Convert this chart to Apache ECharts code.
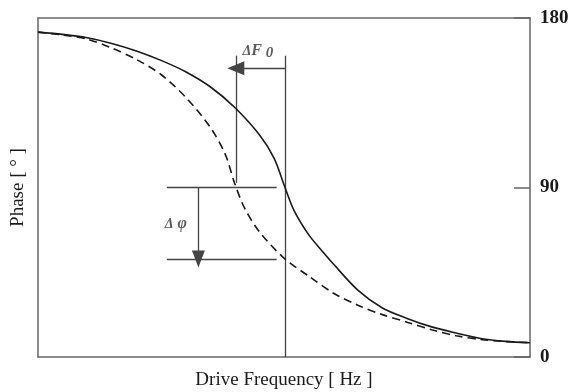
<!DOCTYPE html>
<html lang="en">
<head>
    <meta charset="UTF-8">
    <title>Phase vs Drive Frequency</title>
    <script src="https://cdn.jsdelivr.net/npm/echarts@6/dist/echarts.min.js"></script>
    <style>
        html, body { margin: 0; padding: 0; background: #fff; }
        #main { width: 575px; height: 392px; }
    </style>
</head>
<body>
<div id="main"></div>
<script>
    // phase curves, x in % of the frequency span, y in degrees
    const solidCurve = [
        [0, 172.5], [5, 171.3], [10, 169.5], [15, 166.5], [20, 162.5], [25, 157.5],
        [30, 151.5], [35, 143.5], [40, 132.5], [45, 118], [48, 105.5], [50, 91.5],
        [52, 78], [55, 65], [58, 55.5], [60, 49.5], [65, 35.5], [70, 26], [75, 20.5],
        [80, 16], [85, 12.7], [90, 9.8], [95, 8.3], [100, 7.6]
    ];
    const dashedCurve = [
        [0, 172.5], [5, 171], [10, 168.8], [15, 164], [20, 158], [25, 150], [30, 138],
        [35, 122], [38, 108], [40, 92], [42, 79], [45, 66.5], [50, 52.5], [55, 43],
        [60, 34], [65, 27.5], [70, 22.5], [75, 18.5], [80, 14.5], [85, 11.3], [90, 9.3],
        [95, 8.2], [100, 7.6]
    ];
    const phaseTicks = [0, 90, 180];

    // annotation positions (data units)
    const f0 = 50.2;          // resonance
    const f0Shift = 40.2;     // shifted resonance
    const lineTop = 160;
    const dfArrowY = 153.3;
    const dfLineBottom = 92.5;
    const phaseHi = 90;
    const phaseLo = 52;
    const hLineFrom = 26.2;
    const hLineTo = 48.5;
    const dphiX = 32.6;

    const serif = '"Liberation Serif", "DejaVu Serif", serif';
    const ink = '#1a1a1a';
    const frame = '#666';

    const chart = echarts.init(document.getElementById('main'));

    const frameLine = { show: true, onZero: false, lineStyle: { color: frame, width: 1.5 } };

    chart.setOption({
        animation: false,
        backgroundColor: '#fff',
        grid: { left: 38, right: 45, top: 18, bottom: 35, containLabel: false, outerBoundsMode: 'none' },
        xAxis: [{
            type: 'value', min: 0, max: 100,
            name: 'Drive Frequency [ Hz ]', nameLocation: 'middle', nameGap: 14,
            nameTextStyle: { fontFamily: serif, fontSize: 19, color: ink },
            axisLine: frameLine,
            axisTick: { show: false }, axisLabel: { show: false }, splitLine: { show: false }
        }, {
            type: 'value', min: 0, max: 100, position: 'top',
            axisLine: frameLine,
            axisTick: { show: false }, axisLabel: { show: false }, splitLine: { show: false }
        }],
        yAxis: [{
            type: 'value', min: 0, max: 180,
            name: 'Phase [ ° ]', nameLocation: 'middle', nameGap: 10,
            nameTextStyle: { fontFamily: serif, fontSize: 19, color: ink },
            axisLine: frameLine,
            axisTick: { show: false }, axisLabel: { show: false }, splitLine: { show: false }
        }, {
            type: 'value', min: 0, max: 180, interval: 90, position: 'right',
            axisLine: frameLine,
            axisTick: { show: true, inside: true, length: 16, lineStyle: { color: frame, width: 1.5 } },
            axisLabel: {
                margin: 10, fontFamily: serif, fontSize: 19, fontWeight: 'bold', color: ink,
                formatter: v => phaseTicks.includes(v) ? String(v) : ''
            },
            splitLine: { show: false }
        }],
        series: [
            {
                type: 'line', data: solidCurve, smooth: 0.3, symbol: 'none',
                lineStyle: { color: ink, width: 1.6 }, z: 5
            },
            {
                type: 'line', data: dashedCurve, smooth: 0.3, symbol: 'none',
                lineStyle: { color: ink, width: 1.6, type: [8, 5] }, z: 5
            },
            {
                // guide lines and arrows
                type: 'line', data: [], symbol: 'none',
                markLine: {
                    silent: true, symbol: 'none', label: { show: false },
                    lineStyle: { color: '#444', width: 1.3, type: 'solid' },
                    data: [
                        [{ coord: [f0, 0] }, { coord: [f0, lineTop] }],
                        [{ coord: [f0Shift, dfLineBottom] }, { coord: [f0Shift, lineTop] }],
                        [{ coord: [hLineFrom, phaseHi] }, { coord: [hLineTo, phaseHi] }],
                        [{ coord: [hLineFrom, phaseLo] }, { coord: [hLineTo, phaseLo] }],
                        [{ coord: [f0, dfArrowY] }, { coord: [f0Shift, dfArrowY], symbol: 'triangle', symbolSize: [14, 17], itemStyle: { color: '#111' } }],
                        [{ coord: [dphiX, phaseHi] }, { coord: [dphiX, phaseLo], symbol: 'triangle', symbolSize: [13, 17], itemStyle: { color: '#111' } }]
                    ]
                }
            },
            {
                type: 'scatter', symbolSize: 0, silent: true,
                data: [
                    { value: [44.7, 162.5], name: 'df' },
                    { value: [28.0, 70.6], name: 'dphi' }
                ],
                label: {
                    show: true, position: 'inside',
                    formatter: p => p.name === 'df' ? '{a|Δ}{b|F}{c| 0}' : '{a|Δ}{b| φ}',
                    rich: {
                        a: { fontFamily: serif, fontSize: 14, fontStyle: 'italic', fontWeight: 'bold', color: '#333' },
                        b: { fontFamily: serif, fontSize: 16, fontStyle: 'italic', fontWeight: 'bold', color: '#333' },
                        c: { fontFamily: serif, fontSize: 15, fontStyle: 'italic', fontWeight: 'bold', color: '#333', padding: [5, 0, 0, 0] }
                    }
                }
            }
        ]
    });
</script>
</body>
</html>
